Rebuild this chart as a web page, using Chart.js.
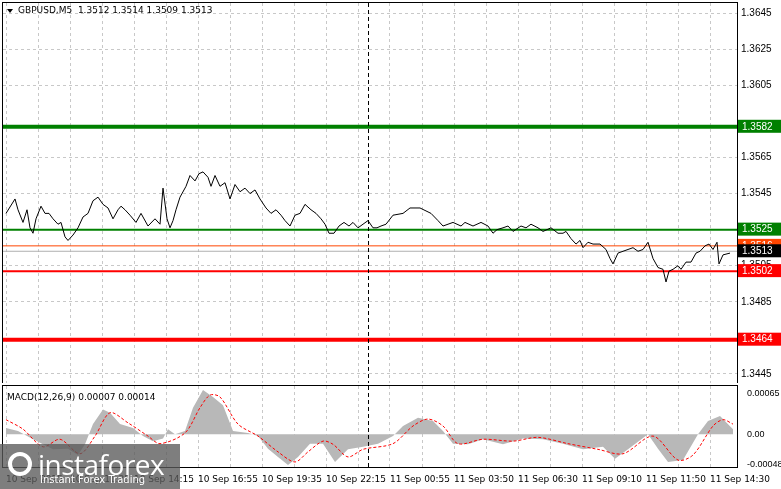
<!DOCTYPE html>
<html><head><meta charset="utf-8">
<script src="https://cdn.jsdelivr.net/npm/chart.js@4"></script>
<style>
html,body{margin:0;padding:0;background:#fff;width:781px;height:489px;overflow:hidden;font-family:"DejaVu Sans",sans-serif}
#main{position:absolute;left:0;top:0}
#macd{position:absolute;left:0;top:384px}
#wm{position:absolute;left:0;top:444px;width:180px;height:45px;background:rgba(90,90,90,0.78);color:#fff}
#wm .a{position:absolute;left:38px;top:1px;font:28px "Open Sans",sans-serif;letter-spacing:-0.5px}
#wm .b{position:absolute;left:40px;top:30px;font:10px "DejaVu Sans",sans-serif}
#wm .g{position:absolute;left:8px;top:8px;width:24px;height:24px;border:4px solid #fff;border-radius:50%;box-sizing:border-box}
</style></head><body>
<canvas id="main" width="781" height="383" style="width:781px;height:383px"></canvas>
<canvas id="macd" width="781" height="105" style="width:781px;height:105px"></canvas>
<div id="wm"><div class="g"></div><div class="a">instaforex</div><div class="b">Instant Forex Trading</div></div>
<script>
const priceBars=[0,4.5,6,8.5,10.5,12,13.5,15,17.5,19.5,21.5,23.5,26,27.5,29.5,31,33.5,36,38.5,41,43.5,46,48.5,51,53.5,56,57.5,59.5,62,65,67.5,71,74.5,77,78.5,80.5,82,83.5,85,87,90,92,94.5,96.5,98.5,101,102.5,104.5,107,109.5,112,114.5,117,119.5,122,124.5,127,130,132.5,135,137.5,139.5,142,144.5,147,149.5,152.5,155,157.5,159.5,161.5,164,166.5,169,171.5,173.5,176,178.5,181,183.5,185.5,187.5,190,193.5,198.5,202,207,212.5,216,218.5,223.5,227.5,229.5,233.5,237.5,241,243.5,245.5,248.5,251,253.5,257.5,260,262.5,266,268.5,272.5,276,278.5,280,282.5,285,287,288.5,291,293.5,297,300,302,303.5,306,308.5,311,313.5,316,318.5,321,323.5,326,328.5,330,331.5,333.5,336,337.5,340,342.5,345,347,349.5,351.5,353.5,355.5,356.5,358.5,362];
const closes=[1.3534,1.3542,1.3536,1.3529,1.3536,1.3526,1.3523,1.3531,1.3538,1.3534,1.3534,1.3531,1.3528,1.3529,1.3521,1.3519,1.3522,1.3526,1.3532,1.3534,1.3541,1.3543,1.3539,1.3537,1.3531,1.3536,1.3538,1.3536,1.3533,1.3529,1.3534,1.3527,1.3531,1.3528,1.3548,1.3531,1.3526,1.3530,1.3536,1.3543,1.3549,1.3555,1.3552,1.3556,1.3557,1.3554,1.3549,1.3555,1.3549,1.3551,1.3542,1.3550,1.3546,1.3548,1.3545,1.3547,1.3542,1.3537,1.3534,1.3536,1.3533,1.3530,1.3527,1.3533,1.3534,1.3539,1.3536,1.3534,1.3531,1.3528,1.3523,1.3523,1.3527,1.3529,1.3527,1.3529,1.3526,1.3528,1.3530,1.3526,1.3526,1.3527,1.3528,1.3533,1.3534,1.3537,1.3537,1.3534,1.3530,1.3527,1.3529,1.3527,1.3529,1.3527,1.3529,1.3527,1.3523,1.3525,1.3526,1.3527,1.3524,1.3527,1.3526,1.3528,1.3526,1.3524,1.3526,1.3523,1.3523,1.3524,1.3520,1.3517,1.3519,1.3515,1.3518,1.3517,1.3517,1.3514,1.3509,1.3506,1.3512,1.3513,1.3514,1.3515,1.3513,1.3514,1.3518,1.3509,1.3504,1.3503,1.3496,1.3502,1.3503,1.3505,1.3503,1.3507,1.3507,1.3512,1.3513,1.3516,1.3517,1.3514,1.3518,1.3506,1.3511,1.3512];
const histBars=[0,6,13.5,23.5,31,36,39.5,43.5,48.5,52,57,63.5,68.5,73.5,78.5,81,84.5,89.5,93.5,98.5,103.5,108.5,113.5,121,126,131,136,141,146,152,158.5,164.5,171,178.5,186,193.5,198.5,206,213.5,218.5,223.5,231,238.5,248.5,258.5,268.5,278.5,288.5,298.5,304.5,311,321,326,331,338.5,346,351,357,363.5];
const histVals=[0.0001,0.00005,-0.00008,-0.00024,-0.00023,-0.00033,-0.00016,0.00016,0.00039,0.00034,0.00016,0.0001,-0.00003,-0.00011,-0.00007,0.00008,0,0.00005,0.00042,0.0007,0.00059,0.00046,0.00005,0.00002,-0.00003,-0.00023,-0.00036,-0.00049,-0.00036,-0.00015,-0.00015,-0.00044,-0.00024,-0.0002,-0.00015,-0.00003,0.00013,0.00026,0.00021,0.00005,-0.00015,-0.00016,-0.00008,-0.00016,-0.00007,-0.00008,-0.00015,-0.00024,-0.0002,-0.00039,-0.00024,0,-0.00023,-0.00044,-0.00041,0,0.00021,0.00029,0.00008];
const sigBars=[0,8.5,18.5,27,37,44.5,52,61,71,77,89.5,97,102,107,116,126,136,144.5,151,158.5,163.5,171,178.5,193.5,203.5,211,218.5,226,238.5,253.5,266,281,296,308.5,323.5,336,343.5,353.5,358.5,363.5];
const sigVals=[0.00023,0.00008,-0.0002,-0.00008,-0.00031,-0.00003,0.00034,0.00018,-0.00003,-0.00015,0.00002,0.00042,0.00062,0.00059,0.00016,-0.00003,-0.00028,-0.00044,-0.00028,-0.00011,-0.00016,-0.00036,-0.00024,-0.00015,0.00013,0.00024,0.00013,-0.00015,-0.00008,-0.00011,-0.00005,-0.00015,-0.00024,-0.00031,-0.00003,-0.00041,-0.00033,0.00013,0.00023,0.00016];
const priceTicks=[1.3445,1.3485,1.3505,1.3525,1.3545,1.3565,1.3605,1.3625,1.3645];
const macdTicks=[-0.00048,0,0.00065];
const timeLabels={0:"10 Sep 2025",32:"10 Sep 11:35",64:"10 Sep 14:15",96:"10 Sep 16:55",128:"10 Sep 19:35",160:"10 Sep 22:15",192:"11 Sep 00:55",224:"11 Sep 03:50",256:"11 Sep 06:30",288:"11 Sep 09:10",320:"11 Sep 11:50",352:"11 Sep 14:30"};
const levels=[{v:1.3582,c:'#008000',w:4},{v:1.3525,c:'#008000',w:2},{v:1.3516,c:'#ff4500',w:1},{v:1.3513,c:'#b0b0b0',w:1,box:'#000'},{v:1.3502,c:'#ff0000',w:2},{v:1.3464,c:'#ff0000',w:4}];
const crossBar=181;
const XMIN=-1.5, XMAX=365.5;
const F="DejaVu Sans";
const LF="Liberation Sans";
const grid={color:'#c8c8c8',lineWidth:1,drawTicks:false};
const gridTicks=[];for(let b=0;b<=352;b+=16)gridTicks.push(b);
const noPad=s=>{s.width=44;s.paddingTop=0;s.paddingBottom=0;};

const framePlugin={id:'frame',afterDatasetsDraw(ch){const a=ch.chartArea,c=ch.ctx;c.save();
 const x=ch.scales.x.getPixelForValue(crossBar);c.strokeStyle='#000';c.setLineDash([4,3]);c.lineWidth=1;c.beginPath();c.moveTo(Math.round(x)+0.5,a.top);c.lineTo(Math.round(x)+0.5,a.bottom);c.stroke();
 c.setLineDash([]);c.strokeRect(a.left-0.5,a.top-0.5,a.right-a.left+1,a.bottom-a.top+1);c.restore();}};

const levelDs=levels.map(l=>({type:'line',data:[{x:XMIN,y:l.v},{x:XMAX,y:l.v}],borderColor:l.c,borderWidth:l.w,pointRadius:0,order:5}));
const boxPlugin={id:'boxes',afterDraw(ch){const c=ch.ctx,ys=ch.scales.y;c.save();c.font='10px '+LF;c.textBaseline='middle';
 levels.forEach(l=>{const y=ys.getPixelForValue(l.v);const bc=l.box||l.c;c.fillStyle=bc;c.fillRect(738,y-7,43,13);c.fillStyle='#fff';c.fillText(l.v.toFixed(4),742,y);});
 c.fillStyle='#000';c.font='9px '+F;c.textBaseline='middle';c.fillText('GBPUSD,M5  1.3512 1.3514 1.3509 1.3513',18,11);
 c.beginPath();c.moveTo(7,9);c.lineTo(13,9);c.lineTo(10,13);c.closePath();c.fill();c.restore();}};

new Chart(document.getElementById('main'),{type:'line',
 data:{datasets:[{data:priceBars.map((b,i)=>({x:b,y:closes[i]})),borderColor:'#000',borderWidth:1,pointRadius:0,tension:0,order:1},...levelDs]},
 options:{animation:false,responsive:false,devicePixelRatio:1,events:[],
  layout:{padding:{left:3,top:3,right:0,bottom:0}},
  plugins:{legend:{display:false},tooltip:{enabled:false}},
  scales:{
   x:{type:'linear',min:XMIN,max:XMAX,afterBuildTicks:s=>{s.ticks=gridTicks.map(v=>({value:v}));},
      ticks:{display:false},grid:Object.assign({},grid),border:{display:false,dash:[3,3]},afterFit:s=>{s.height=0;s.paddingLeft=0;s.paddingRight=0;}},
   y:{position:'right',min:1.3440,max:1.36506,afterBuildTicks:s=>{s.ticks=priceTicks.map(v=>({value:v}));},
      ticks:{font:{family:LF,size:10},color:'#000',padding:4,callback:v=>v.toFixed(4)},
      grid:Object.assign({},grid),border:{display:false,dash:[3,3]},afterFit:noPad}
  }},plugins:[framePlugin,boxPlugin]});

const macdLabel={id:'ml',afterDraw(ch){const c=ch.ctx;c.save();c.font='9px '+F;c.fillStyle='#000';c.textBaseline='middle';c.fillText('MACD(12,26,9) 0.00007 0.00014',7,14);c.restore();}};
new Chart(document.getElementById('macd'),{type:'line',
 data:{datasets:[
  {data:histBars.map((b,i)=>({x:b,y:histVals[i]})),borderWidth:0,borderColor:'rgba(0,0,0,0)',backgroundColor:'#b8b8b8',fill:'origin',pointRadius:0,tension:0,order:2},
  {data:sigBars.map((b,i)=>({x:b,y:sigVals[i]})),borderColor:'#ff0000',borderWidth:1,borderDash:[3,2],pointRadius:0,tension:0.3,order:1}]},
 options:{animation:false,responsive:false,devicePixelRatio:1,events:[],
  layout:{padding:{left:3,top:2,right:0,bottom:0}},
  plugins:{legend:{display:false},tooltip:{enabled:false}},
  scales:{
   x:{type:'linear',min:XMIN,max:XMAX,afterBuildTicks:s=>{s.ticks=gridTicks.map(v=>({value:v}));},
      ticks:{font:{family:F,size:9},color:'#000',padding:7,maxRotation:0,autoSkip:false,align:'start',callback:v=>timeLabels[v]||''},
      grid:Object.assign({},grid),border:{display:false,dash:[3,3]},afterFit:s=>{s.height=22;s.paddingLeft=0;s.paddingRight=0;}},
   y:{position:'right',min:-0.00052,max:0.000764,afterBuildTicks:s=>{s.ticks=macdTicks.map(v=>({value:v}));},
      ticks:{font:{family:LF,size:9},color:'#000',padding:2,callback:v=>v===0?'0.00':v.toFixed(5)},
      grid:{display:false},border:{display:false},afterFit:noPad}
  }},plugins:[framePlugin,macdLabel]});
</script></body></html>
